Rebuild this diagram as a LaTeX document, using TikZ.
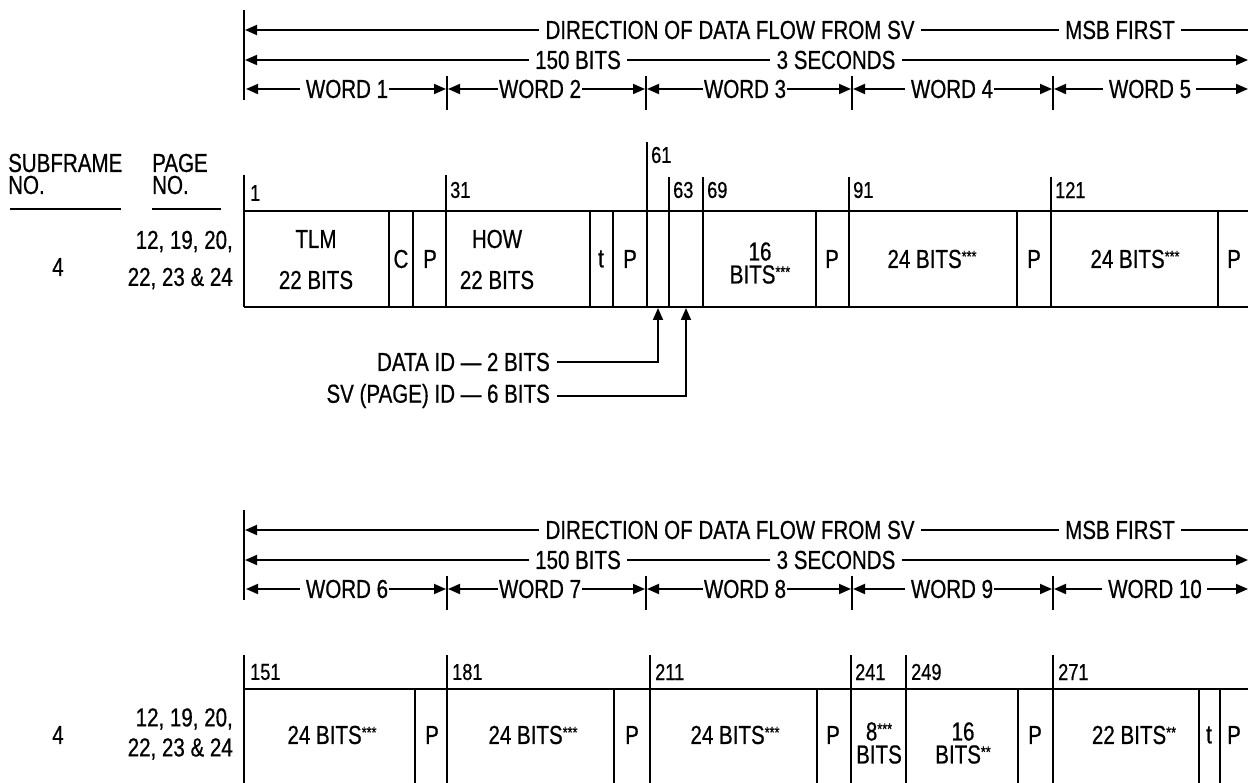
\documentclass[tikz,border=0pt]{standalone}
\usepackage{fontspec}
\setmainfont{Liberation Sans}[FakeStretch=0.79,FakeBold=0.6]
\usetikzlibrary{arrows.meta}
\newcommand\hfnt{\fontsize{26}{22}\selectfont}
\newcommand\nfnt{\fontsize{23}{24}\selectfont}
\newcommand\stars[1]{{\fontsize{16}{16}\selectfont\raisebox{6pt}{#1}}}
\tikzset{
  ln/.style={line width=1.8pt},
  arr/.style={line width=1.8pt,-{Triangle[length=12pt,width=10pt]}},
  lbl/.style={font=\hfnt,inner sep=0pt},
  num/.style={font=\nfnt,inner sep=0pt,anchor=west},
  cell/.style={font=\hfnt,inner sep=0pt,align=center},
}
% header block: #1 prefix, #2 y offset, #3..#7 word label centres, #8 first word number
\newcommand\hdr[8]{%
  \begin{scope}[yshift=-#2pt]
    \coordinate (#1top) at (244,10);
    \coordinate (#1bot) at (244,100);
    \draw[ln] (#1top) -- (#1bot);
    % row 1
    \node[lbl] (#1dir) at (730,30) {DIRECTION OF DATA FLOW FROM SV};
    \node[lbl] (#1msb) at (1120,30) {MSB FIRST};
    \coordinate (#1ra) at (245,30);
    \coordinate (#1rb) at (1252,30);
    \draw[arr] ([xshift=-6pt]#1dir.west) -- (#1ra);
    \draw[ln] ([xshift=6pt]#1dir.east) -- ([xshift=-6pt]#1msb.west);
    \draw[ln] ([xshift=6pt]#1msb.east) -- (#1rb);
    % row 2
    \node[lbl] (#1bits) at (578,60) {150 BITS};
    \node[lbl] (#1sec) at (836,60) {3 SECONDS};
    \coordinate (#1sa) at (245,60);
    \coordinate (#1sb) at (1248,60);
    \draw[arr] ([xshift=-6pt]#1bits.west) -- (#1sa);
    \draw[ln] ([xshift=6pt]#1bits.east) -- ([xshift=-6pt]#1sec.west);
    \draw[arr] ([xshift=6pt]#1sec.east) -- (#1sb);
    % row 3 ticks
    \coordinate (#1t0) at (245,89);
    \coordinate (#1t1) at (447,89);
    \coordinate (#1t2) at (646,89);
    \coordinate (#1t3) at (852,89);
    \coordinate (#1t4) at (1053,89);
    \coordinate (#1t5) at (1248,89);
    \foreach \tx in {447,646,852,1053}{\draw[ln] (\tx,76) -- (\tx,110);}
    \node[lbl] (#1w1) at (#3,89) {WORD #8};
    \node[lbl] (#1w2) at (#4,89) {WORD \the\numexpr#8+1\relax};
    \node[lbl] (#1w3) at (#5,89) {WORD \the\numexpr#8+2\relax};
    \node[lbl] (#1w4) at (#6,89) {WORD \the\numexpr#8+3\relax};
    \node[lbl] (#1w5) at (#7,89) {WORD \the\numexpr#8+4\relax};
    \draw[arr] ([xshift=-6pt]#1w1.west) -- ([xshift=1pt]#1t0);
    \draw[arr] ([xshift=1pt]#1w1.east) -- ([xshift=-1pt]#1t1);
    \draw[arr] ([xshift=-1pt]#1w2.west) -- ([xshift=1pt]#1t1);
    \draw[arr] ([xshift=1pt]#1w2.east) -- ([xshift=-1pt]#1t2);
    \draw[arr] ([xshift=-1pt]#1w3.west) -- ([xshift=1pt]#1t2);
    \draw[arr] ([xshift=1pt]#1w3.east) -- ([xshift=-1pt]#1t3);
    \draw[arr] ([xshift=-6pt]#1w4.west) -- ([xshift=1pt]#1t3);
    \draw[arr] ([xshift=1pt]#1w4.east) -- ([xshift=-1pt]#1t4);
    \draw[arr] ([xshift=-6pt]#1w5.west) -- ([xshift=1pt]#1t4);
    \draw[arr] ([xshift=5pt]#1w5.east) -- (#1t5);
  \end{scope}}
\begin{document}
\begin{tikzpicture}[x=1pt,y=-1pt]
\useasboundingbox (0,0) rectangle (1248,783);
\clip (0,0) rectangle (1248,783);
\fill[white] (0,0) rectangle (1248,783);

% ===== top header =====
\hdr{a}{0}{347}{540}{745}{952}{1150}{1}

% ===== left labels (top) =====
\node[lbl,anchor=west,align=left] (sub) at (8,174) {SUBFRAME\\NO.};
\node[lbl,anchor=west,align=left] (page) at (152,174) {PAGE\\NO.};
\coordinate (subA) at (10,209);
\coordinate (subB) at (121,209);
\coordinate (pageA) at (152,209);
\coordinate (pageB) at (221,209);
\draw[ln] (subA) -- (subB);
\draw[ln] (pageA) -- (pageB);
\node[lbl] (sf1) at (58,267) {4};
\node[lbl,anchor=east,align=right] (pg1) at (233,260) {12, 19, 20,\\[15pt]22, 23 \& 24};

% ===== top word table =====
\draw[ln] (244,211) -- (1252,211);
\draw[ln] (244,307) -- (1252,307);
\foreach \x/\t in {244/175,446/175,647/142,669/177,703/177,849/177,1051/177}
  {\draw[ln] (\x,\t) -- (\x,307);}
\foreach \x in {389,413,590,613,816,1017,1218}
  {\draw[ln] (\x,211) -- (\x,307);}
\node[num] (n1) at (250,193) {1};
\node[num] (n31) at (450,190) {31};
\node[num] (n61) at (651,155) {61};
\node[num] (n63) at (673,190) {63};
\node[num] (n69) at (707,190) {69};
\node[num] (n91) at (853,190) {91};
\node[num] (n121) at (1055,190) {121};

\node[cell] (tlm) at (316,239) {TLM};
\node[cell] (tlmb) at (316,280) {22 BITS};
\node[cell] (c1) at (401,259) {C};
\node[cell] (p1) at (430,259) {P};
\node[cell] (how) at (497,239) {HOW};
\node[cell] (howb) at (497,280) {22 BITS};
\node[cell] (t1) at (601,259) {t};
\node[cell] (p2) at (630,259) {P};
\node[cell] (b16) at (760,263) {16\\[1pt]BITS\stars{***}};
\node[cell] (p3) at (832,259) {P};
\node[cell] (b24a) at (932,259) {24 BITS\stars{***}};
\node[cell] (p4) at (1034,259) {P};
\node[cell] (b24b) at (1135,259) {24 BITS\stars{***}};
\node[cell] (p5) at (1234,259) {P};

% ===== ID pointers =====
\coordinate (did) at (658,308);
\coordinate (svid) at (686,308);
\node[lbl,anchor=east] (dtxt) at (550,362) {DATA ID — 2 BITS};
\node[lbl,anchor=east] (stxt) at (550,396) {SV (PAGE) ID — 6 BITS};
\draw[arr] ([xshift=7pt]dtxt.east) -| (did);
\draw[arr] ([xshift=7pt]stxt.east) -| (svid);

% ===== bottom header =====
\hdr{b}{500}{347}{540}{745}{952}{1155}{6}

% ===== bottom labels =====
\node[lbl] (sf2) at (58,735) {4};
\node[lbl,anchor=east,align=right] (pg2) at (233,734) {12, 19, 20,\\[8pt]22, 23 \& 24};

% ===== bottom word table =====
\draw[ln] (244,689) -- (1252,689);
\foreach \x/\t in {244/655,447/655,650/655,851/655,906/655,1053/655}
  {\draw[ln] (\x,\t) -- (\x,800);}
\foreach \x in {415,614,817,1018,1199,1220}
  {\draw[ln] (\x,689) -- (\x,800);}
\node[num] (n151) at (250,672) {151};
\node[num] (n181) at (452,672) {181};
\node[num] (n211) at (655,672) {211};
\node[num] (n241) at (855,672) {241};
\node[num] (n249) at (911,672) {249};
\node[num] (n271) at (1058,672) {271};

\node[cell] (q1) at (332,735) {24 BITS\stars{***}};
\node[cell] (q2) at (432,735) {P};
\node[cell] (q3) at (533,735) {24 BITS\stars{***}};
\node[cell] (q4) at (632,735) {P};
\node[cell] (q5) at (735,735) {24 BITS\stars{***}};
\node[cell] (q6) at (833,735) {P};
\node[cell] (q7) at (879,743) {8\stars{***}\\[1pt]BITS};
\node[cell] (q8) at (963,743) {16\\[1pt]BITS\stars{**}};
\node[cell] (q9) at (1035,735) {P};
\node[cell] (q10) at (1134,735) {22 BITS\stars{**}};
\node[cell] (q11) at (1209,735) {t};
\node[cell] (q12) at (1234,735) {P};
\end{tikzpicture}
\end{document}
